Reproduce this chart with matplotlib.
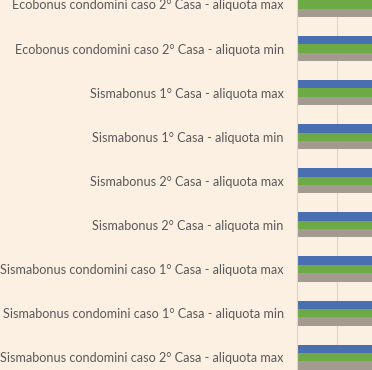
import matplotlib.pyplot as plt
import numpy as np

# categories, top to bottom
categorie = [
    "Ecobonus condomini caso 2° Casa - aliquota max",
    "Ecobonus condomini caso 2° Casa - aliquota min",
    "Sismabonus 1° Casa - aliquota max",
    "Sismabonus 1° Casa - aliquota min",
    "Sismabonus 2° Casa - aliquota max",
    "Sismabonus 2° Casa - aliquota min",
    "Sismabonus condomini caso 1° Casa - aliquota max",
    "Sismabonus condomini caso 1° Casa - aliquota min",
    "Sismabonus condomini caso 2° Casa - aliquota max",
]

# the bars run past the right edge of the crop, lengths are estimates
serie_blu = [96000, 90000, 96000, 90000, 96000, 90000, 96000, 90000, 96000]
serie_verde = [85000, 80000, 85000, 80000, 85000, 80000, 85000, 80000, 85000]
serie_grigia = [70000, 65000, 70000, 65000, 70000, 65000, 70000, 65000, 70000]

sfondo = "#FCF0E3"
colori = ["#4A6FB0", "#6DAA45", "#A39A92"]

fig = plt.figure(figsize=(3.72, 3.70), dpi=100, facecolor=sfondo)
ax = fig.add_axes([297 / 372, 0, 400 / 372, 1])
ax.set_facecolor(sfondo)

y = np.arange(len(categorie))
h = 0.19
ax.barh(y - h, serie_blu, height=h, color=colori[0], zorder=2)
ax.barh(y, serie_verde, height=h, color=colori[1], zorder=2)
ax.barh(y + h, serie_grigia, height=h, color=colori[2], zorder=2)

ax.set_xlim(0, 100000)
ax.set_xticks(np.arange(0, 100001, 10000))
ax.tick_params(axis="x", bottom=False, labelbottom=False)
ax.grid(axis="x", color="#DAD5CF", linewidth=0.8, zorder=0)

ax.set_yticks(y)
ax.set_yticklabels(categorie, fontsize=9.1, color="#595959", family="Lato")
ax.tick_params(axis="y", length=0, pad=9.5)
ax.set_ylim(8.29, -0.1)

for s in ["top", "right", "bottom"]:
    ax.spines[s].set_visible(False)
ax.spines["left"].set_color("#DAD5CF")
ax.spines["left"].set_linewidth(0.8)

fig.savefig("out.png", dpi=100, facecolor=sfondo)
